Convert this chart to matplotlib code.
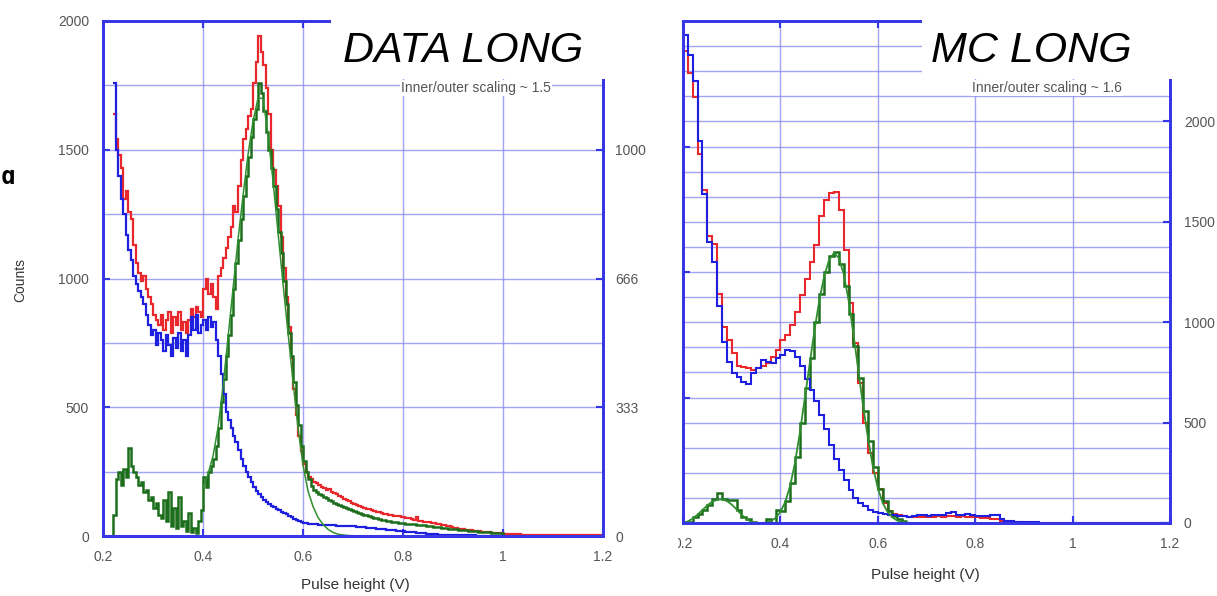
import numpy as np
import matplotlib
matplotlib.use("Agg")
import matplotlib.pyplot as plt
from matplotlib.patches import Rectangle
from matplotlib.ticker import MultipleLocator

plt.rcParams['font.family'] = ['Liberation Sans', 'DejaVu Sans']

# ---------------- DATA (left panel: DATA LONG) ----------------
data_bin_start = 0.22
data_bin_width = 0.005
data_red = [
    1640, 1540, 1480, 1430, 1310, 1340, 1260, 1230, 1130, 1060,
    1020, 990, 1010, 960, 930, 900, 860, 840, 820, 860,
    800, 840, 870, 790, 850, 820, 870, 800, 830, 790,
    840, 880, 850, 890, 870, 850, 960, 1000, 940, 980,
    930, 880, 1010, 1040, 1080, 1120, 1160, 1200, 1280, 1260,
    1360, 1460, 1540, 1580, 1630, 1660, 1760, 1840, 1940, 1880,
    1830, 1740, 1640, 1500, 1420, 1360, 1280, 1160, 1040, 930,
    810, 690, 570, 470, 390, 330, 280, 250, 230, 220,
    210, 205, 198, 192, 186, 180, 184, 172, 166, 162,
    156, 150, 145, 140, 134, 128, 124, 120, 116, 113,
    110, 106, 103, 100, 97, 94, 92, 90, 87, 85,
    83, 81, 79, 78, 76, 74, 72, 70, 68, 66,
    64, 72, 60, 58, 56, 54, 53, 51, 49, 47,
    45, 43, 41, 39, 37, 35, 33, 31, 29, 27,
    26, 24, 23, 22, 20, 19, 18, 17, 16, 15,
    14, 13, 13, 12, 11, 10, 9, 8, 7, 7,
    6, 6, 6, 5, 5, 5, 5, 5, 4, 4,
    4, 4, 4, 4, 4, 3, 3, 3, 3, 3,
    3, 3, 3, 3, 3, 2, 2, 2, 2, 2,
    2, 2, 2, 2, 2, 2,
]
data_blue = [
    1760, 1500, 1400, 1310, 1250, 1170, 1110, 1070, 1010, 980,
    950, 930, 900, 860, 820, 780, 800, 740, 790, 760,
    720, 780, 740, 700, 770, 730, 790, 720, 760, 700,
    780, 850, 800, 860, 790, 820, 840, 800, 850, 810,
    830, 760, 700, 630, 550, 480, 450, 420, 390, 365,
    335, 300, 270, 250, 230, 210, 190, 175, 162, 150,
    140, 132, 124, 118, 112, 105, 100, 95, 90, 86,
    78, 72, 66, 62, 60, 56, 52, 50, 48, 47,
    46, 45, 44, 44, 43, 42, 42, 41, 41, 40,
    40, 40, 39, 39, 38, 38, 37, 36, 36, 35,
    34, 33, 32, 31, 30, 29, 28, 27, 26, 25,
    24, 23, 22, 21, 20, 19, 18, 17, 16, 15,
    14, 13, 12, 11, 10, 9, 8, 7, 6, 6,
    5, 5, 4, 4, 4, 3, 3, 3, 3, 2,
    2, 2, 2, 2, 2, 1, 1, 1, 1, 1,
    1, 1, 1, 1, 1, 1,
]
data_green = [
    80, 220, 250, 200, 260, 230, 340, 270, 250, 230,
    200, 210, 170, 180, 140, 150, 110, 130, 80, 70,
    140, 60, 170, 40, 110, 30, 150, 40, 60, 20,
    90, 15, 30, 10, 60, 100, 230, 190, 250, 270,
    300, 350, 420, 520, 610, 700, 780, 860, 960, 1060,
    1150, 1230, 1320, 1400, 1470, 1550, 1620, 1660, 1760, 1720,
    1650, 1570, 1500, 1430, 1360, 1270, 1180, 1100, 990, 900,
    790, 700, 600, 510, 430, 350, 290, 250, 220, 195,
    180, 172, 165, 158, 150, 146, 140, 136, 130, 125,
    120, 116, 112, 108, 104, 100, 96, 92, 89, 86,
    83, 80, 77, 74, 71, 69, 66, 64, 62, 60,
    58, 56, 55, 53, 52, 50, 49, 48, 47, 46,
    45, 44, 43, 42, 41, 40, 38, 37, 36, 35,
    34, 33, 32, 30, 29, 28, 27, 26, 25, 24,
    23, 22, 21, 20, 19, 18, 17, 16, 15, 14,
    14, 13, 13, 12, 12, 11,
]
data_fit_start = 0.40
data_fit_step = 0.01
data_fit = [190, 240, 310, 420, 580, 770, 960, 1150, 1320, 1480,
            1610, 1700, 1700, 1560, 1380, 1180, 980, 790, 600, 420,
            275, 175, 115, 72, 45, 26, 14, 7, 4, 2, 1]

# ---------------- DATA (right panel: MC LONG) ----------------
mc_bin_start = 0.20
mc_bin_width = 0.01
mc_red = [
    2350, 2240, 2120, 1840, 1660, 1430, 1390, 1140, 975, 910,
    845, 780, 775, 770, 762, 770, 780, 795, 828, 861,
    911, 935, 985, 1050, 1135, 1215, 1300, 1385, 1530, 1608,
    1642, 1650, 1559, 1359, 1094, 895, 696, 496, 350, 250,
    170, 100, 62, 45, 38, 34, 31, 30, 32, 29,
    31, 30, 33, 31, 34, 36, 32, 33, 30, 28,
    29, 27, 25, 22, 18, 12, 8, 5, 4, 3,
    2, 2, 1, 1, 1, 1, 0, 1, 0, 0,
    0, 1, 0, 0, 0, 0, 1, 0, 0, 0,
    0, 0, 0, 0, 0, 0, 0, 0, 0, 0,
]
mc_blue = [
    2430, 2330, 2200, 1900, 1640, 1400, 1300, 1080, 900, 800,
    745, 729, 700, 690, 745, 770, 812, 800, 795, 820,
    835, 861, 855, 828, 780, 715, 660, 610, 540, 470,
    390, 320, 265, 215, 165, 125, 100, 85, 66, 57,
    50, 46, 42, 40, 36, 33, 32, 35, 38, 40,
    37, 41, 38, 42, 48, 55, 42, 40, 44, 38,
    36, 35, 33, 38, 40, 20, 12, 8, 6, 5,
    4, 3, 3, 2, 2, 2, 1, 1, 1, 0,
    1, 0, 0, 1, 0, 0, 0, 1, 0, 0,
    0, 0, 1, 0, 0, 0, 0, 0, 1, 0,
]
mc_green = [
    5, 5, 30, 45, 64, 89, 120, 147, 122, 114,
    114, 64, 30, 20, 5, 0, 0, 22, 0, 64,
    60, 110, 200, 330, 500, 670, 820, 1000, 1140, 1250,
    1330, 1350, 1290, 1180, 1040, 880, 720, 560, 410, 280,
    170, 110, 62, 35, 20, 8,
]
mc_fit_start = 0.20
mc_fit_step = 0.01
mc_fit = [0, 8, 22, 42, 65, 88, 106, 116, 118, 110,
          92, 68, 42, 20, 6, 0, 0, 2, 8, 25,
          55, 105, 185, 300, 450, 620, 790, 960, 1110, 1230,
          1310, 1345, 1320, 1240, 1110, 940, 760, 580, 420, 280,
          175, 100, 55, 28, 12, 5, 2, 0]

x_ticks = [0.2, 0.4, 0.6, 0.8, 1.0, 1.2]
x_tick_labels = ['0.2', '0.4', '0.6', '0.8', '1', '1.2']
left_counts_ticks = [0, 500, 1000, 1500, 2000]
left_right_ticks = [0, 333, 666, 1000]
mc_right_ticks = [0, 500, 1000, 1500, 2000]

# ---------------- STYLE ----------------
W, H = 1217, 596
SPINE = '#3636e6'
GRID = '#8c8cf2'
LBL = '#555555'
RED = '#e8282c'
BLUE = '#1f1fe0'
GREEN = '#1c6e1c'
FIT = '#2f8f2f'

fig = plt.figure(figsize=(W / 100, H / 100), dpi=100)
fig.patch.set_facecolor('white')


def style_axis(ax):
    for s in ax.spines.values():
        s.set_color(SPINE)
        s.set_linewidth(2.0)
    ax.set_facecolor('none')


def edges(start, width, n):
    return start + width * np.arange(n + 1)


# ---------------- LEFT PANEL ----------------
axL = fig.add_axes([103 / W, 1 - 536 / H, 500 / W, 515 / H])
style_axis(axL)
axL.set_xlim(0.2, 1.2)
axL.set_ylim(0, 2000)
axL.set_xticks(x_ticks)
axL.set_xticklabels(x_tick_labels)
axL.set_yticks(left_counts_ticks)
axL.yaxis.set_minor_locator(MultipleLocator(250))
axL.grid(True, which='both', color=GRID, lw=1.0, alpha=0.8)
axL.set_axisbelow(True)

axL.stairs(data_red, edges(data_bin_start, data_bin_width, len(data_red)),
           baseline=None, color=RED, lw=1.6)
axL.stairs(data_green, edges(data_bin_start, data_bin_width, len(data_green)),
           baseline=0, color=GREEN, lw=1.8)
axL.stairs(data_blue, edges(data_bin_start, data_bin_width, len(data_blue)),
           baseline=None, color=BLUE, lw=1.6)
fit_x = data_fit_start + data_fit_step * np.arange(len(data_fit))
axL.plot(fit_x, data_fit, color=FIT, lw=1.1)

axLr = axL.twinx()
style_axis(axLr)
axLr.set_ylim(0, 2000 / 1.5)
axLr.set_yticks(left_right_ticks)
axLr.set_yticklabels([str(v) for v in left_right_ticks])
axLr.tick_params(direction='in', length=5, width=1.5, color=SPINE,
                 labelcolor=LBL, labelsize=10, pad=9)

axL.yaxis.tick_left()
axL.tick_params(which='major', direction='in', length=5, width=1.5, color=SPINE,
                labelcolor=LBL, labelsize=10, pad=10, top=True, right=False)
axL.tick_params(which='minor', length=0)

# ---------------- RIGHT PANEL ----------------
axR = fig.add_axes([683 / W, 1 - 523 / H, 487 / W, 502 / H])
style_axis(axR)
axR.set_xlim(0.2, 1.2)
axR.set_ylim(0, 2500)
axR.set_xticks(x_ticks)
axR.set_xticklabels(x_tick_labels)
axR.set_yticks(mc_right_ticks)
axR.yaxis.set_minor_locator(MultipleLocator(125))
axR.grid(True, which='both', color=GRID, lw=1.0, alpha=0.8)
axR.set_axisbelow(True)

axR.stairs(mc_red, edges(mc_bin_start, mc_bin_width, len(mc_red)),
           baseline=None, color=RED, lw=1.5)
axR.stairs(mc_green, edges(mc_bin_start, mc_bin_width, len(mc_green)),
           baseline=None, color=GREEN, lw=1.8)
axR.stairs(mc_blue, edges(mc_bin_start, mc_bin_width, len(mc_blue)),
           baseline=None, color=BLUE, lw=1.5)
mfit_x = mc_fit_start + mc_fit_step * np.arange(len(mc_fit))
axR.plot(mfit_x, mc_fit, color=FIT, lw=1.3)

axRl = axR.twinx()
style_axis(axRl)
axRl.set_ylim(0, 1)
axRl.yaxis.tick_left()
axRl.set_yticks([0.25, 0.5, 0.75])
axRl.tick_params(direction='in', length=5, width=1.5, color=SPINE, labelleft=False,
                 labelright=False, right=False, left=True)

# twinx moves the host's ticks to the left; put them back on the right
axR.yaxis.tick_right()
axR.tick_params(which='major', direction='in', length=5, width=1.5, color=SPINE,
                labelcolor=LBL, labelsize=10, pad=10, top=True, right=True,
                left=False, labelright=True, labelleft=False)
axR.tick_params(which='minor', length=0)

# ---------------- MASKS & TITLES ----------------
def fig_rect(x0, y0, x1, y1):
    fig.add_artist(Rectangle((x0 / W, 1 - y1 / H), (x1 - x0) / W, (y1 - y0) / H,
                             transform=fig.transFigure, facecolor='white',
                             edgecolor='none', zorder=5))


fig_rect(331, 0, 612, 79)
fig_rect(922, 0, 1195, 79)
fig_rect(655, 536, 678, 558)

fig.text(343 / W, 1 - 62 / H, 'DATA LONG', fontsize=31, style='italic',
         color='black', va='baseline', ha='left', zorder=6)
fig.text(931 / W, 1 - 62 / H, 'MC LONG', fontsize=31, style='italic',
         color='black', va='baseline', ha='left', zorder=6)

box = dict(facecolor='white', edgecolor='none', pad=1)
fig.text(476 / W, 1 - 88 / H, 'Inner/outer scaling ~ 1.5', fontsize=10, color=LBL,
         ha='center', va='center', bbox=box, zorder=6)
fig.text(1047 / W, 1 - 88 / H, 'Inner/outer scaling ~ 1.6', fontsize=10, color=LBL,
         ha='center', va='center', bbox=box, zorder=6)

fig.text(20 / W, 1 - 280 / H, 'Counts', fontsize=10, color='#333333', rotation=90,
         ha='center', va='center')
fig.text(355 / W, 1 - 585 / H, 'Pulse height (V)', fontsize=11, color='#333333',
         ha='center', va='center')
fig.text(925 / W, 1 - 575 / H, 'Pulse height (V)', fontsize=11, color='#333333',
         ha='center', va='center')
fig.text(1 / W, 1 - 177 / H, 'ɑ', fontsize=17, color='black', ha='left',
         va='center', weight='bold', family='DejaVu Sans Mono')

fig.savefig('out.png', dpi=100, facecolor='white')
